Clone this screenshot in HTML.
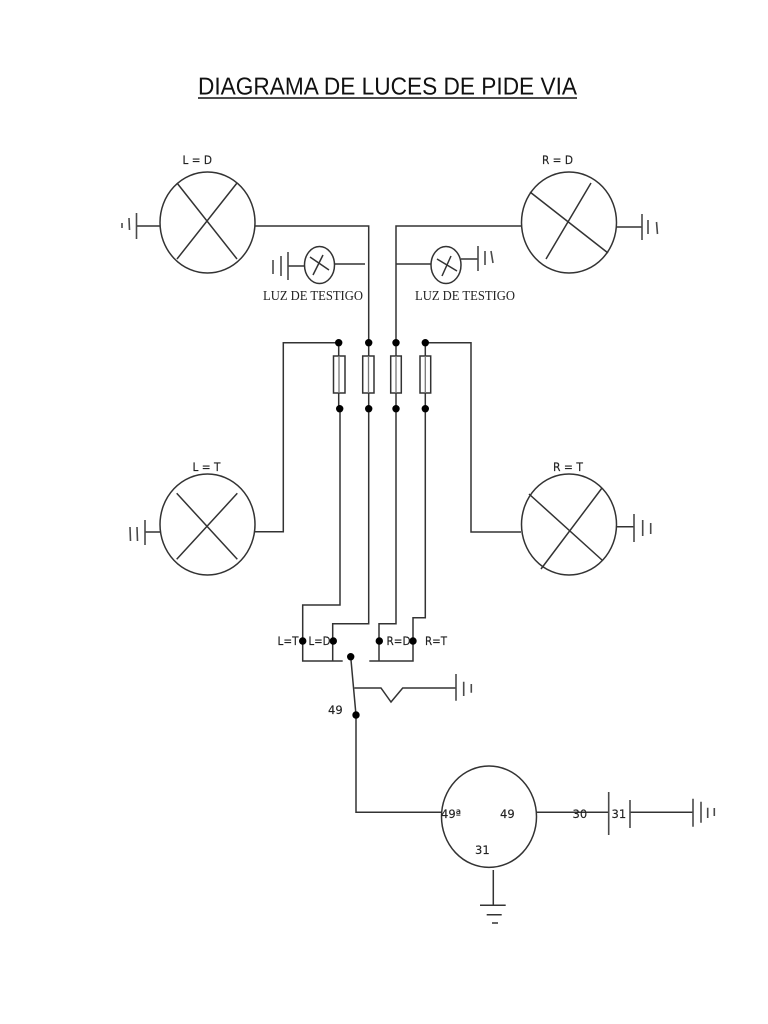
<!DOCTYPE html>
<html><head><meta charset="utf-8"><style>
html,body{margin:0;padding:0;background:#fff}
svg{display:block}
.l{fill:none;stroke:#333;stroke-width:1.5}
.g{fill:none;stroke:#4a4a4a;stroke-width:1.6}
.t{font-family:"DejaVu Sans",sans-serif;font-size:11.5px;fill:#222;stroke:#222;stroke-width:.15}
.s{font-family:"Liberation Serif",serif;font-size:13.5px;fill:#222}
</style></head><body>
<svg width="768" height="1024" viewBox="0 0 768 1024" xmlns="http://www.w3.org/2000/svg">
<rect width="768" height="1024" fill="#fff"/>
<text x="198" y="94.5" font-family="Liberation Sans, sans-serif" font-size="24.5" fill="#111" textLength="379" lengthAdjust="spacingAndGlyphs" style="text-rendering:geometricPrecision">DIAGRAMA DE LUCES DE PIDE VIA</text>
<line x1="198" y1="98" x2="577" y2="98" stroke="#111" stroke-width="1.6"/>

<g class="l">
<!-- big lamps -->
<ellipse cx="207.5" cy="222.5" rx="47.5" ry="50.5"/>
<path d="M177 183L237 259M237 183L177 259"/>
<ellipse cx="569" cy="222.5" rx="47.5" ry="50.5"/>
<path d="M530 192L608 253M591 183L546 259"/>
<ellipse cx="207.5" cy="524.5" rx="47.5" ry="50.5"/>
<path d="M176.7 493.3L237.3 559.3M237.3 493.3L176.7 559.3"/>
<ellipse cx="569" cy="524.5" rx="47.5" ry="50.5"/>
<path d="M529 494L602 560M602 488L541 569"/>
<!-- small lamps -->
<ellipse cx="319.5" cy="265" rx="15" ry="18.5"/>
<path d="M310 257L329 270M323 255L313 275"/>
<ellipse cx="446" cy="265" rx="15" ry="18.5"/>
<path d="M437 259L457 271M451 256L442 276"/>
<!-- wires top -->
<path d="M255 226H368.7V343M335 264H365M288 266H305"/>
<path d="M521 226H396V343M396 264H431M461 259H478"/>
<!-- side wires -->
<path d="M338.7 342.7H283.3V531.7H255"/>
<path d="M425.3 342.7H471V532H521"/>
<!-- vertical through fuses -->
<path d="M338.7 343V408M340 408V605H302.7V661H342.7"/>
<path d="M368.7 343V623.7H332.7V661"/>
<path d="M396 343V623.7H379V661"/>
<path d="M425.3 343V617.7H413V661H369.3"/>
<!-- switch -->
<path d="M350.7 656.7L356 715V812.3H441.7"/>
<path d="M354.3 688H381L391 702L402.7 688H456"/>
<!-- relay -->
<ellipse cx="489" cy="816.7" rx="47.5" ry="50.7"/>
<path d="M536.7 812.3H608.7M630 812.3H693M493.3 870V905"/>
<path d="M480 905.3H505.7M486.7 914.7H501.7M492 923H498"/>
<!-- grounds stems -->
<path d="M136.7 226H160M617 227H642M145 532H160M616 526.7H634"/>
</g>

<g class="l" style="fill:#fff">
<rect x="333.5" y="356" width="11.5" height="37"/>
<rect x="362.7" y="356" width="11.3" height="37"/>
<rect x="390.7" y="356" width="10.6" height="37"/>
<rect x="420" y="356" width="10.7" height="37"/>
</g>
<path d="M339 356V393M368.5 356V393M396 356V393M425.3 356V393" stroke="#777" stroke-width="1.3" fill="none"/>

<g class="g">
<path d="M136.5 213V239M129 218L129.5 230M122 223V228"/>
<path d="M642 214V240M648 220V234M656.5 222L657.5 234"/>
<path d="M288 252V280M281 256V276M273 260V274"/>
<path d="M478 246V271M485 251V265M491 251L493 263"/>
<path d="M145 520V545M137 527L137.5 541M130 527L130.5 541"/>
<path d="M634 514V542M642.7 520V536M650.7 523V534"/>
<path d="M456 674V700.7M463.7 681.7V696M471.3 684V692.7"/>
<path d="M608.7 792V835M630 800V828M693 798.7V826.7M701 801.7V822.7M707.7 807.7V818M714.3 808V816"/>
</g>

<g fill="#000">
<circle cx="338.7" cy="342.7" r="3.7"/><circle cx="368.7" cy="342.7" r="3.7"/><circle cx="396" cy="342.7" r="3.7"/><circle cx="425.3" cy="342.7" r="3.7"/>
<circle cx="339.7" cy="408.7" r="3.7"/><circle cx="368.7" cy="408.7" r="3.7"/><circle cx="396" cy="408.7" r="3.7"/><circle cx="425.3" cy="408.7" r="3.7"/>
<circle cx="302.7" cy="641" r="3.7"/><circle cx="333.3" cy="641" r="3.7"/><circle cx="379.3" cy="641" r="3.7"/><circle cx="413" cy="641" r="3.7"/>
<circle cx="350.7" cy="656.7" r="3.7"/><circle cx="356" cy="715" r="3.7"/>
</g>

<text class="t" x="182.5" y="164" textLength="29.5" lengthAdjust="spacingAndGlyphs">L = D</text>
<text class="t" x="542" y="164" textLength="31" lengthAdjust="spacingAndGlyphs">R = D</text>
<text class="t" x="192.5" y="471" textLength="28" lengthAdjust="spacingAndGlyphs">L = T</text>
<text class="t" x="553" y="471" textLength="30" lengthAdjust="spacingAndGlyphs">R = T</text>
<text class="s" x="263" y="300" textLength="100" lengthAdjust="spacingAndGlyphs">LUZ DE TESTIGO</text>
<text class="s" x="415" y="300" textLength="100" lengthAdjust="spacingAndGlyphs">LUZ DE TESTIGO</text>
<text class="t" x="277.5" y="645" textLength="21" lengthAdjust="spacingAndGlyphs">L=T</text>
<text class="t" x="308.5" y="645" textLength="22" lengthAdjust="spacingAndGlyphs">L=D</text>
<text class="t" x="386.5" y="645" textLength="24" lengthAdjust="spacingAndGlyphs">R=D</text>
<text class="t" x="425" y="645" textLength="22" lengthAdjust="spacingAndGlyphs">R=T</text>
<text class="t" x="328" y="714">49</text>
<text class="t" x="441" y="818">49ª</text>
<text class="t" x="500" y="818">49</text>
<text class="t" x="572.5" y="818">30</text>
<text class="t" x="611.5" y="818">31</text>
<text class="t" x="475" y="854">31</text>
</svg>
</body></html>
